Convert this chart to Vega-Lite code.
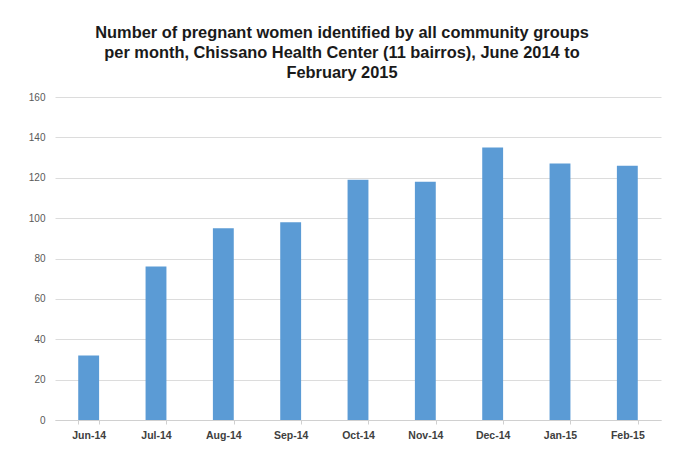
{
  "$schema": "https://vega.github.io/schema/vega-lite/v6.json",
  "width": 606,
  "height": 323,
  "autosize": {"type": "none"},
  "padding": {"left": 55, "top": 97, "right": 12, "bottom": 30},
  "background": "white",
  "title": {
    "text": ["Number of pregnant women identified by all community groups", "per month, Chissano Health Center (11 bairros), June 2014 to", "February 2015"],
    "font": "Liberation Sans",
    "fontSize": 16.4,
    "fontWeight": "bold",
    "color": "#1a1a1a",
    "lineHeight": 20,
    "anchor": "middle",
    "dx": -16,
    "offset": 11
  },
  "data": {
    "values": [
      {"month": "Jun-14", "count": 32},
      {"month": "Jul-14", "count": 76},
      {"month": "Aug-14", "count": 95},
      {"month": "Sep-14", "count": 98},
      {"month": "Oct-14", "count": 119},
      {"month": "Nov-14", "count": 118},
      {"month": "Dec-14", "count": 135},
      {"month": "Jan-15", "count": 127},
      {"month": "Feb-15", "count": 126}
    ]
  },
  "mark": {"type": "bar", "color": "#5b9bd5"},
  "encoding": {
    "x": {
      "field": "month",
      "type": "nominal",
      "sort": null,
      "scale": {"paddingInner": 0.69, "paddingOuter": 0.345},
      "axis": {
        "title": null,
        "labelAngle": 0,
        "labelFont": "Liberation Sans",
        "labelFontSize": 10.5,
        "labelFontWeight": "bold",
        "labelColor": "#404040",
        "labelPadding": 6,
        "domainColor": "#d0d0d0",
        "tickColor": "#d0d0d0",
        "tickBand": "extent",
        "tickSize": 4,
        "grid": false
      }
    },
    "y": {
      "field": "count",
      "type": "quantitative",
      "scale": {"domain": [0, 160]},
      "axis": {
        "title": null,
        "values": [0, 20, 40, 60, 80, 100, 120, 140, 160],
        "labelFont": "Liberation Sans",
        "labelFontSize": 10,
        "labelColor": "#595959",
        "labelPadding": 10,
        "ticks": false,
        "domain": false,
        "gridColor": "#dcdcdc",
        "gridWidth": 1
      }
    }
  },
  "config": {"view": {"stroke": null}}
}
